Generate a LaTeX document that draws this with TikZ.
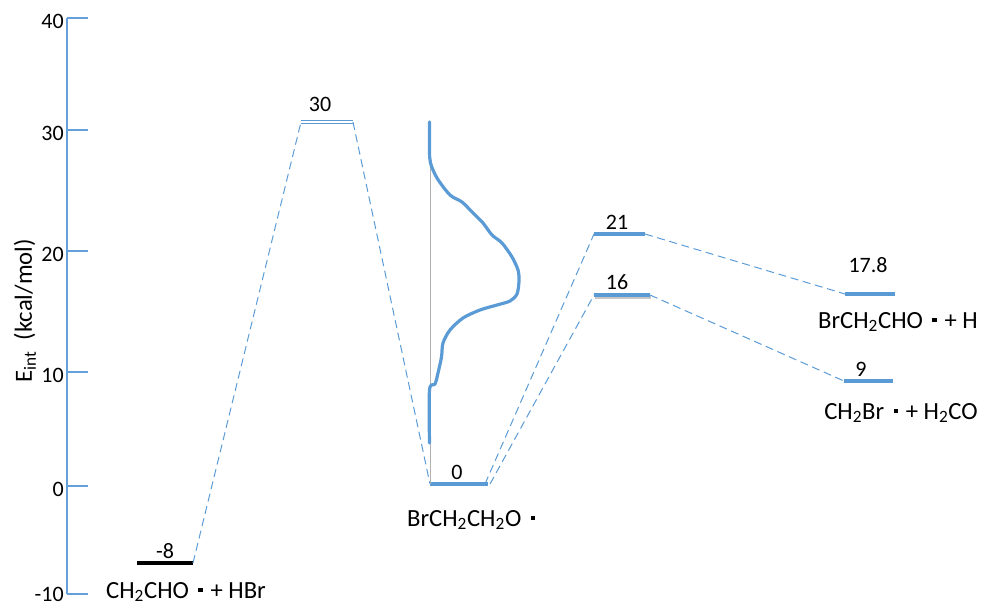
\documentclass[tikz,border=0pt]{standalone}
\usepackage{fontspec}
\setmainfont{Carlito}
\newcommand{\rdot}{\hspace{0.38em}\raisebox{0.25em}{\rule{0.17em}{0.17em}}\hspace{0.1em}}
\definecolor{obl}{RGB}{91,155,213}
\definecolor{axb}{RGB}{100,160,220}
\begin{document}
\begin{tikzpicture}[x=0.75pt,y=-0.75pt,
  txt/.style={font=\fontsize{16.5}{19}\selectfont, inner sep=0pt},
  chem/.style={font=\fontsize{18.5}{21}\selectfont, inner sep=0pt},
  lvl/.style={draw=obl, line width=3pt},
  conn/.style={draw=obl, line width=0.75pt, dash pattern=on 6pt off 3.5pt},
  tick/.style={draw=axb, line width=0.8pt}]
\useasboundingbox (0,0) rectangle (982,607);
% axis
\coordinate (atop) at (67,18);
\coordinate (abot) at (67,594);
\draw[tick] (atop) -- (abot);
\foreach \v/\yy in {40/18,30/130,20/251,10/372,0/486}{
  \draw[tick] (67,\yy) -- (88,\yy);
  \node[txt, anchor=east] (ax\v) at (64,\yy+3) {\v};
}
\draw[tick] (67,594) -- (88,594);
\node[txt, anchor=east] (axm10) at (64,594) {-10};
\node[chem, rotate=90] (ylab) at (25,311) {E\textsubscript{int}\ \ (kcal/mol)};
% levels
\coordinate (aL) at (137,563); \coordinate (aR) at (193,563);
\draw[line width=3pt] (aL) -- (aR);
\coordinate (bL) at (301,122); \coordinate (bR) at (353,122);
\draw[obl, line width=0.7pt] (301,120.8) -- (353,120.8);
\draw[obl, line width=0.7pt] (301,123.2) -- (353,123.2);
\coordinate (cL) at (430,484); \coordinate (cR) at (488,484);
\coordinate (cR1) at (485,484); \coordinate (cR2) at (490,484);
\draw[lvl, line width=2.6pt] (cL) -- (cR);
\coordinate (dL) at (594,234); \coordinate (dR) at (645,234);
\draw[lvl] (dL) -- (dR);
\coordinate (eL) at (594,295); \coordinate (eR) at (650,295);
\draw[gray!45, line width=2.5pt] (595,297.5) -- (651,297.5);
\draw[lvl] (eL) -- (eR);
\coordinate (fL) at (845,294); \coordinate (fR) at (895,294);
\draw[lvl] (fL) -- (fR);
\coordinate (gL) at (844,381); \coordinate (gR) at (893,381);
\draw[lvl] (gL) -- (gR);
% connectors
\draw[conn] (aR) -- (bL);
\draw[conn] (bR) -- (cL);
\draw[conn] (cR1) -- (dL);
\draw[conn] (cR2) -- (eL);
\draw[conn] (dR) -- (fL);
\draw[conn] (eR) -- (gL);
% distribution
\draw[gray!60, line width=0.75pt] (430,121) -- (430,484);
\draw[obl, line width=2.4pt, line join=round, line cap=round]
  plot[smooth, tension=0.5] coordinates {(429.5,122) (429.5,150) (430.5,163) (437,178) (450,195) (462,202) (473,213) (483,223) (492,235) (502,243) (512,257) (518,270) (519,281) (517,294) (510,301) (497,305) (480,310) (463,318) (450,330) (443,343) (441.5,357) (438,373) (435,384) (429.5,390) (429.5,443)};
% labels
\node[txt] (la) at (165,551) {-8};
\node[txt] (lb) at (320,104) {30};
\node[txt] (lc) at (457,472) {0};
\node[txt] (ld) at (617,222) {21};
\node[txt] (le) at (617,282) {16};
\node[txt] (lf) at (868,265) {17.8};
\node[txt] (lg) at (861,369) {9};
\node[chem] (na) at (186,592) {CH\textsubscript{2}CHO\rdot\ + HBr};
\node[chem] (nc) at (471,520) {BrCH\textsubscript{2}CH\textsubscript{2}O\rdot};
\node[chem] (nf) at (898,322) {BrCH\textsubscript{2}CHO\rdot\ + H};
\node[chem] (ng) at (901,413) {CH\textsubscript{2}Br\rdot\ + H\textsubscript{2}CO};
\end{tikzpicture}
\end{document}
